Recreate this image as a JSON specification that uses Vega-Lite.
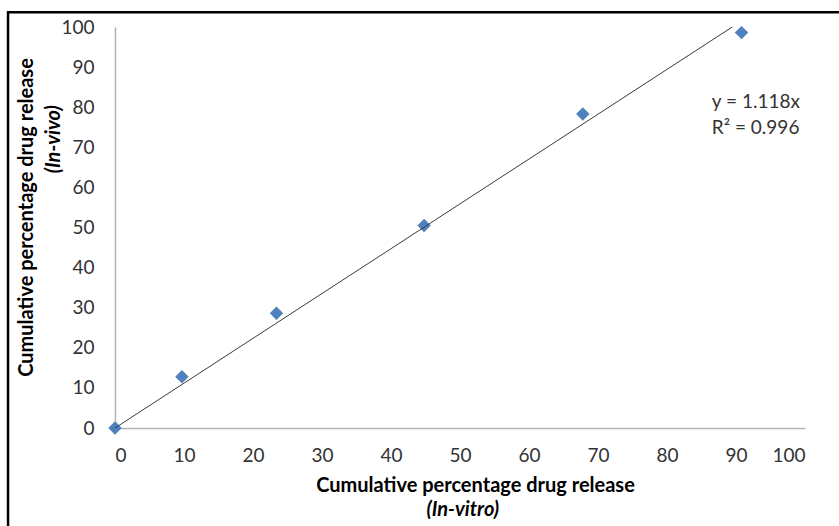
{
  "$schema": "https://vega.github.io/schema/vega-lite/v6.json",
  "width": 690,
  "height": 401,
  "autosize": {"type": "none"},
  "padding": {"left": 115, "top": 27, "right": 34, "bottom": 98},
  "background": "white",
  "config": {"view": {"stroke": null}, "font": "Lato"},
  "datasets": {
    "points": [
      {"x": 0, "y": 0},
      {"x": 9.7, "y": 12.8},
      {"x": 23.4, "y": 28.6},
      {"x": 44.8, "y": 50.5},
      {"x": 67.8, "y": 78.3},
      {"x": 90.8, "y": 98.6}
    ],
    "trend": [
      {"x": 0, "y": 0},
      {"x": 89.45, "y": 100}
    ],
    "frame": [
      {"x": -15.5, "x2": 120, "y": 103.7, "y2": -40}
    ],
    "labels": [
      {"x": 86.5, "y": 81.3, "text": "y = 1.118x"},
      {"x": 86.5, "y": 74.8, "text": "R² = 0.996"}
    ],
    "italic": [
      {"x": 50.4, "y": -20.5, "text": "(In-vitro)", "angle": 0},
      {"x": -8.9, "y": 72, "text": "(In-vivo)", "angle": 270}
    ]
  },
  "layer": [
    {
      "data": {"name": "points"},
      "mark": {"type": "point", "shape": "diamond", "filled": true, "color": "#4f81bd", "opacity": 1, "size": 180},
      "encoding": {
        "x": {
          "field": "x", "type": "quantitative",
          "scale": {"domain": [0, 100], "nice": false, "zero": false},
          "axis": {
            "title": "Cumulative percentage drug release",
            "values": [0, 10, 20, 30, 40, 50, 60, 70, 80, 90, 100],
            "grid": false, "ticks": false,
            "domainColor": "#b3b3b3", "domainWidth": 1.5,
            "labelFont": "Lato", "labelFontSize": 19, "labelColor": "#333333", "labelPadding": 18,
            "titleFont": "Lato", "titleFontSize": 20, "titleFontWeight": "bold", "titleColor": "#000000",
            "titleX": 360, "titleY": 57, "titleBaseline": "middle", "titleAlign": "center"
          }
        },
        "y": {
          "field": "y", "type": "quantitative",
          "scale": {"domain": [0, 100], "nice": false, "zero": false},
          "axis": {
            "title": "Cumulative percentage drug release",
            "values": [0, 10, 20, 30, 40, 50, 60, 70, 80, 90, 100],
            "grid": false, "ticks": false,
            "domainColor": "#b3b3b3", "domainWidth": 1.5,
            "labelFont": "Lato", "labelFontSize": 19, "labelColor": "#333333", "labelPadding": 21,
            "titleFont": "Lato", "titleFontSize": 20, "titleFontWeight": "bold", "titleColor": "#000000",
            "titleX": -89, "titleY": 190, "titleAngle": 270, "titleBaseline": "middle", "titleAlign": "center"
          }
        }
      }
    },
    {
      "data": {"name": "frame"},
      "mark": {"type": "rect", "fill": "transparent", "stroke": "#000000", "strokeWidth": 2.5},
      "encoding": {
        "x": {"field": "x", "type": "quantitative", "scale": {"domain": [0, 100], "nice": false, "zero": false}},
        "x2": {"field": "x2"},
        "y": {"field": "y", "type": "quantitative", "scale": {"domain": [0, 100], "nice": false, "zero": false}},
        "y2": {"field": "y2"}
      }
    },
    {
      "data": {"name": "trend"},
      "mark": {"type": "line", "color": "#3a3a3a", "strokeWidth": 1},
      "encoding": {
        "x": {"field": "x", "type": "quantitative", "scale": {"domain": [0, 100], "nice": false, "zero": false}},
        "y": {"field": "y", "type": "quantitative", "scale": {"domain": [0, 100], "nice": false, "zero": false}}
      }
    },
    {
      "data": {"name": "labels"},
      "mark": {"type": "text", "align": "left", "baseline": "middle", "font": "Lato", "fontSize": 19, "color": "#333333"},
      "encoding": {
        "x": {"field": "x", "type": "quantitative", "scale": {"domain": [0, 100], "nice": false, "zero": false}},
        "y": {"field": "y", "type": "quantitative", "scale": {"domain": [0, 100], "nice": false, "zero": false}},
        "text": {"field": "text"}
      }
    },
    {
      "data": {"name": "italic"},
      "mark": {"type": "text", "align": "center", "baseline": "middle", "font": "Lato", "fontSize": 20, "fontWeight": "bold", "fontStyle": "italic", "color": "#000000"},
      "encoding": {
        "x": {"field": "x", "type": "quantitative", "scale": {"domain": [0, 100], "nice": false, "zero": false}},
        "y": {"field": "y", "type": "quantitative", "scale": {"domain": [0, 100], "nice": false, "zero": false}},
        "text": {"field": "text"},
        "angle": {"field": "angle", "type": "quantitative", "scale": null}
      }
    }
  ]
}
